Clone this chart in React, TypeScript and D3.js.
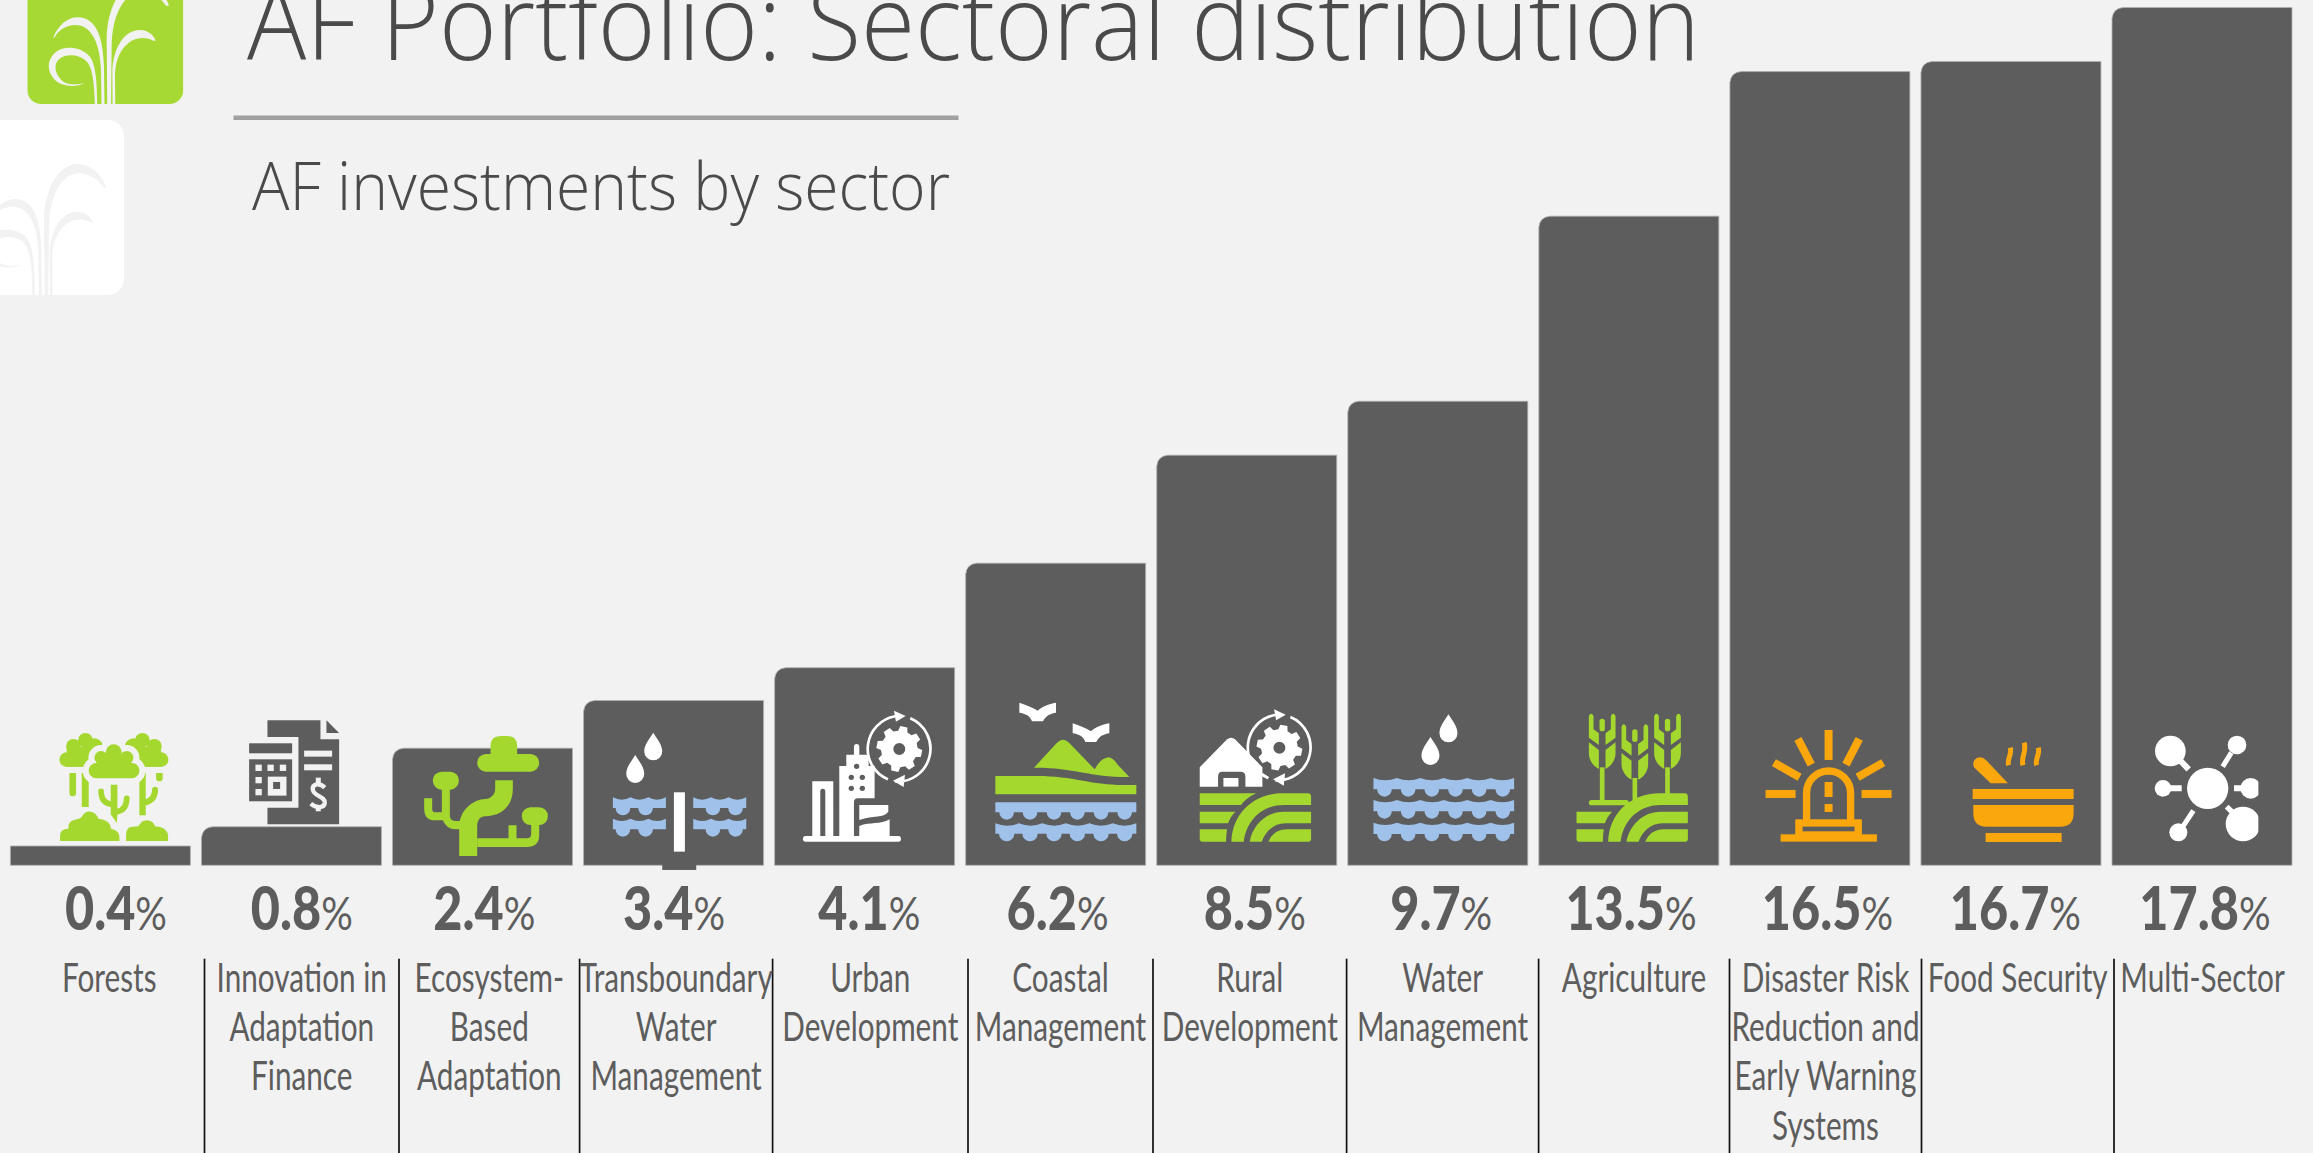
import React from 'react';
import * as d3 from 'd3';

const WIDTH = 2313;
const HEIGHT = 1153;

// Data
const sectors = [
  'Forests',
  'Innovation in|Adaptation|Finance',
  'Ecosystem-|Based|Adaptation',
  'Transboundary|Water|Management',
  'Urban|Development',
  'Coastal|Management',
  'Rural|Development',
  'Water|Management',
  'Agriculture',
  'Disaster Risk|Reduction and|Early Warning|Systems',
  'Food Security',
  'Multi-Sector',
];
const shares = [0.4, 0.8, 2.4, 3.4, 4.1, 6.2, 8.5, 9.7, 13.5, 16.5, 16.7, 17.8];
// the printed bars do not follow the labels exactly, these are their measured lengths
const barLengths = [0.4, 0.8, 2.43, 3.42, 4.1, 6.27, 8.51, 9.63, 13.47, 16.47, 16.68, 17.8];

// Layout, kept apart from the data
const dividerX = [204.5, 399, 579.6, 772.6, 968, 1153, 1346.6, 1538.6, 1729.5, 1921.5, 2114];
const valueNudge = [6.7, 0, -5, -2, -1, -3, 5, -1.4, -3, 2, -2.4, 2.5];
const iconOrigin: [number, number][] = [
  [-59, 495], [514, 495], [1087, 495], [-20, 526], [553, 526], [1126, 526],
  [-41, 526], [532, 526], [1105, 526], [-32, 526], [541, 526], [1114, 526],
];

const BG = '#f2f2f2';
const DARK = '#5d5d5d';
const GREEN = '#a5d82f';
const BLUE = '#a0c1e9';
const ORANGE = '#f9a70c';
const WHITE = '#ffffff';
const CONDENSED = 'Lato, "Open Sans", sans-serif';
const LIGHT = '"Open Sans", "Noto Sans", sans-serif';
const LABEL_SQUEEZE = 0.725;
const VALUE_SQUEEZE = 0.84;

const x = d3.scaleBand<string>().domain(sectors).range([10.4, 2292]).paddingInner(0.058).paddingOuter(0);
const y = d3.scaleLinear().domain([0, 17.8]).range([865.3, 7.5]);

const cellEdges = [14, ...dividerX, 2291];

function barPath(sector: string, value: number, corner: number) {
  const left = x(sector) as number;
  const right = left + x.bandwidth();
  const top = y(value);
  const p = d3.path();
  p.moveTo(left, y(0));
  p.lineTo(left, top + corner);
  if (corner) p.quadraticCurveTo(left + 1, top + 1, left + corner, top);
  p.lineTo(right, top);
  p.lineTo(right, y(0));
  p.closePath();
  return p.toString();
}

// icon helpers, all in 3x pixels
function waveBand(x0: number, x1: number, yTop: number, yBottom: number, arcs: number, dip: number, centers: number[], r: number) {
  const p = d3.path();
  const arcW = (x1 - x0) / arcs;
  p.moveTo(x0, yTop);
  for (let i = 0; i < arcs; i++) {
    p.quadraticCurveTo(x0 + arcW * (i + 0.5), yTop + dip * 2, x0 + arcW * (i + 1), yTop);
  }
  p.lineTo(x1, yBottom);
  [...centers].reverse().forEach((c) => {
    p.lineTo(c + r, yBottom);
    p.arc(c, yBottom, r, 0, Math.PI, false);
  });
  p.lineTo(x0, yBottom);
  p.closePath();
  return p.toString();
}

function dropPath(cx: number, top: number, bottom: number, r: number) {
  const h = bottom - top;
  return `M${cx},${top}C${cx + 0.4 * r},${top + 0.22 * h} ${cx + r},${top + 0.42 * h} ${cx + r},${bottom - r}A${r},${r} 0 1 1 ${cx - r},${bottom - r}C${cx - r},${top + 0.42 * h} ${cx - 0.4 * r},${top + 0.22 * h} ${cx},${top}Z`;
}

function gearPath(cx: number, cy: number, rOut: number, rIn: number, hole: number, teeth: number) {
  const step = (Math.PI * 2) / teeth;
  const pts: string[] = [];
  for (let i = 0; i < teeth; i++) {
    const a = i * step + 0.2;
    [[-0.3, rIn], [-0.18, rOut], [0.18, rOut], [0.3, rIn]].forEach(([f, r]) => {
      pts.push(`${cx + r * Math.cos(a + f * step * 1.1)},${cy + r * Math.sin(a + f * step * 1.1)}`);
    });
  }
  return `M${pts.join('L')}ZM${cx + hole},${cy}A${hole},${hole} 0 1 0 ${cx - hole},${cy}A${hole},${hole} 0 1 0 ${cx + hole},${cy}Z`;
}

const GearCycle = ({ dx = 0, dy = 0 }: { dx?: number; dy?: number }) => (
  <g transform={`translate(${dx},${dy})`} fill={WHITE}>
    <path d={gearPath(927, 177, 69, 55, 18, 8)} fillRule="evenodd" />
    <path d="M893,268A99,99 0 0 1 915,79" fill="none" stroke={WHITE} strokeWidth={8} />
    <path d="M960,85A99,99 0 0 1 915,275" fill="none" stroke={WHITE} strokeWidth={8} />
    <path d="M946,78L911,62L917,95Z" />
    <path d="M908,272L944,254L940,291Z" />
  </g>
);

const Arches = () => (
  <g fill={GREEN}>
    <path d="M183,455C185,380 240,310 340,310H412Q422,310 422,320V345H340C280,345 230,385 220,455Z" />
    <path d="M238,455C245,410 285,365 340,365H422V400H345C310,400 285,425 274,455Z" />
    <path d="M294,455C305,430 325,418 350,418H422V448Q422,455 415,455Z" />
    <path d="M88,365H195C185,375 178,385 173,400H88Z" />
    <path d="M88,418H170C168,430 167,445 167,455H95Q88,455 88,448Z" />
  </g>
);

const WheatHalf = () => (
  <g>
    <path d="M-40,78Q-33,64 -26,78V118L-10,130V165L-40,143Z" />
    <path d="M-40,157L-10,180V237C-28,228 -40,210 -40,190Z" />
  </g>
);

const Wheat = ({ c, dy, stem }: { c: number; dy: number; stem: number }) => (
  <g transform={`translate(${c},${dy})`} fill={GREEN}>
    <WheatHalf />
    <g transform="scale(-1,1)"><WheatHalf /></g>
    <rect x={-8} y={86} width={16} height={38} rx={8} />
    <rect x={-7} y={232} width={14} height={stem} />
  </g>
);

const BackCrown = () => (
  <g>
    <circle cx={166} cy={120} r={22} />
    <circle cx={130} cy={138} r={22} />
    <circle cx={110} cy={178} r={22} />
    <circle cx={192} cy={142} r={28} />
    <rect x={110} y={140} width={90} height={60} />
  </g>
);

const FrontCrown = (props: React.SVGProps<SVGGElement>) => (
  <g {...props}>
    <rect x={176} y={188} width={152} height={46} rx={23} />
    <circle cx={213} cy={172} r={20} />
    <circle cx={251} cy={156} r={24} />
    <circle cx={290} cy={172} r={20} />
    <rect x={200} y={165} width={100} height={40} />
  </g>
);

const ForestsIcon = () => (
  <g fill={GREEN}>
    <BackCrown />
    <g transform="translate(503,0) scale(-1,1)"><BackCrown /></g>
    <path d="M118,218H138V278Q138,288 128,288Q118,288 118,278Z" />
    <rect x={155} y={218} width={21} height={102} />
    <rect x={328} y={218} width={19} height={127} />
    <path d="M378,218H398V233Q398,243 388,243Q378,243 378,233Z" />
    <path d="M347,306C368,300 375,285 375,268" fill="none" stroke={GREEN} strokeWidth={18} strokeLinecap="round" />
    {/* the pale halo cuts the back crowns and trunks */}
    <FrontCrown fill={BG} stroke={BG} strokeWidth={36} strokeLinejoin="round" />
    <FrontCrown />
    <path d="M242,253H262V345L260,368L242,342Z" />
    <path d="M213,273C213,295 222,308 242,312" fill="none" stroke={GREEN} strokeWidth={17} strokeLinecap="round" />
    <path d="M290,294C290,316 280,330 262,334" fill="none" stroke={GREEN} strokeWidth={17} strokeLinecap="round" />
    <path d="M90,422V405Q90,385 115,385Q112,362 135,358Q150,355 155,350Q165,332 180,334Q198,335 205,355Q240,358 243,385Q268,390 268,410V422Z" />
    <path d="M288,422V405Q288,385 300,380Q320,378 325,378Q335,358 352,360Q370,362 375,378Q410,380 414,405V422Z" />
  </g>
);

const FinanceIcon = () => (
  <g fill={DARK}>
    <path d="M712,60H871V117H927V372H712V322H805V110H712Z" />
    <path d="M889,60L927,98H889Z" />
    <rect x={822} y={151} width={84} height={18} fill={BG} />
    <rect x={822} y={192} width={84} height={18} fill={BG} />
    <path d="M884,262C868,246 846,250 848,268C850,288 886,288 884,308C882,324 858,324 842,310" fill="none" stroke={BG} strokeWidth={13} />
    <rect x={857} y={232} width={15} height={16} fill={BG} />
    <rect x={857} y={318} width={15} height={15} fill={BG} />
    <rect x={657} y={129} width={129} height={30} />
    <rect x={657} y={177} width={129} height={126} />
    <g fill={BG}>
      <rect x={676} y={193} width={19} height={19} />
      <rect x={712} y={193} width={19} height={19} />
      <rect x={749} y={193} width={19} height={19} />
      <rect x={676} y={230} width={19} height={19} />
      <rect x={676} y={266} width={19} height={19} />
      <rect x={713} y={229} width={56} height={57} />
    </g>
    <rect x={729} y={245} width={21} height={21} />
  </g>
);

const EcosystemIcon = () => (
  <g fill={GREEN}>
    <rect x={1341} y={161} width={186} height={53} rx={26} />
    <path d="M1381,165V137Q1381,107 1411,107H1431Q1461,107 1461,137V165Z" />
    <path d="M1395,240H1448V265C1448,320 1410,348 1365,348C1350,348 1341,360 1341,378V467H1287V380C1287,330 1330,296 1365,296C1385,294 1395,280 1395,265Z" />
    <path d="M1341,414H1435V375H1459V414H1490Q1503,414 1503,400V372H1527V405Q1527,440 1490,440H1341Z" />
    <rect x={1475} y={321} width={78} height={53} rx={26} />
    <rect x={1208} y={214} width={78} height={54} rx={26} />
    <path d="M1235,262H1259V345Q1259,362 1275,362H1290V387H1275Q1250,387 1238,360H1215Q1182,360 1182,325V294H1206V325Q1206,336 1215,336H1235Z" />
  </g>
);

const TransboundaryIcon = () => (
  <g>
    <rect x={216} y={520} width={102} height={20} fill={DARK} />
    <g fill={WHITE}>
      <path d={dropPath(189, 128, 211, 27)} />
      <path d={dropPath(135, 195, 279, 27)} />
      <rect x={251} y={307} width={33} height={178} />
    </g>
    <g fill={BLUE}>
      <path d={waveBand(68, 227, 322, 354, 3, 7, [98, 166], 22)} />
      <path d={waveBand(68, 227, 386, 418, 3, 7, [98, 166], 22)} />
      <path d={waveBand(309, 468, 322, 354, 3, 7, [368, 436], 22)} />
      <path d={waveBand(309, 468, 386, 418, 3, 7, [368, 436], 22)} />
    </g>
  </g>
);

const UrbanIcon = () => (
  <g fill={WHITE}>
    <rect x={638} y={438} width={294} height={17} rx={8} />
    <path d="M666,438V274H729V438H705V304Q705,296 697,296Q690,296 690,304V438Z" />
    <path d="M747,438V228H768V194H791V170Q791,162 799,162Q807,162 807,170V194H835V228H853V325H803Q791,325 791,337V438Z" />
    <g fill={DARK}>
      <circle cx={799} cy={229} r={8} />
      <circle cx={783} cy={262} r={8} />
      <circle cx={816} cy={262} r={8} />
      <circle cx={783} cy={295} r={8} />
      <circle cx={816} cy={295} r={8} />
    </g>
    <path d="M807,345H894V365C880,385 850,375 807,390Z" />
    <path d="M807,408C840,395 870,405 898,388V438H807Z" />
    <GearCycle />
  </g>
);

const CoastalIcon = () => (
  <g>
    <g fill={WHITE}>
      <path d="M1287,38C1310,45 1330,55 1342,62C1355,50 1375,42 1397,38V68C1380,70 1365,78 1358,94H1325C1320,78 1305,70 1287,68Z" />
      <path d="M1287,38C1310,45 1330,55 1342,62C1355,50 1375,42 1397,38V68C1380,70 1365,78 1358,94H1325C1320,78 1305,70 1287,68Z" transform="translate(160,62)" />
    </g>
    <g fill={GREEN}>
      <path d="M1331,233L1400,158Q1418,140 1436,158L1513,238Q1530,205 1555,202Q1570,205 1580,222L1617,261C1500,262 1450,232 1331,233Z" />
      <path d="M1215,258H1340C1450,258 1500,285 1600,285H1638V313H1215Z" />
    </g>
    <g fill={BLUE}>
      <path d={waveBand(1215, 1638, 337, 367, 1, 0, [1249, 1319, 1391, 1461, 1532, 1603], 22)} />
      <path d={waveBand(1215, 1638, 400, 431, 6, 7, [1249, 1319, 1391, 1461, 1532, 1603], 23)} />
    </g>
  </g>
);

const RuralIcon = () => (
  <g>
    <Arches />
    <path d="M88,310H258C235,320 222,332 212,345H88Z" fill={GREEN} />
    <g fill={WHITE}>
      <path d="M88,290V232L170,148Q182,138 194,148L276,232V290H225V260Q225,245 210,245H155Q143,245 143,260V290Z" />
      <rect x={159} y={264} width={45} height={26} />
      <path d="M278,250L296,262L292,268L274,256Z" />
    </g>
    <GearCycle dx={-600} dy={-4} />
  </g>
);

const WaterIcon = () => {
  const centers = [642, 713, 784, 855, 926, 997];
  return (
    <g>
      <g fill={WHITE}>
        <path d={dropPath(834, 73, 157, 27)} />
        <path d={dropPath(780, 141, 225, 27)} />
      </g>
      <g fill={BLUE}>
        <path d={waveBand(609, 1031, 264, 298, 6, 7, centers, 22)} />
        <path d={waveBand(609, 1031, 330, 364, 6, 7, centers, 22)} />
        <path d={waveBand(609, 1031, 398, 432, 6, 7, centers, 22)} />
      </g>
    </g>
  );
};

const AgricultureIcon = () => (
  <g>
    <g transform="translate(1130,0)"><Arches /></g>
    <rect x={1255} y={330} width={120} height={16} rx={8} fill={GREEN} />
    <Wheat c={1295} dy={0} stem={100} />
    <Wheat c={1393} dy={32} stem={66} />
    <Wheat c={1491} dy={0} stem={80} />
  </g>
);

const DisasterIcon = () => (
  <g fill={ORANGE} stroke="none">
    <rect x={252} y={120} width={24} height={90} />
    <rect x={75} y={300} width={90} height={24} />
    <rect x={363} y={300} width={90} height={24} />
    <g stroke={ORANGE} strokeWidth={24} fill="none">
      <path d="M172,147L212,224" />
      <path d="M356,147L316,224" />
      <path d="M100,218L177,262" />
      <path d="M428,218L351,262" />
    </g>
    <path d="M198,390V309A66,66 0 0 1 330,309V390" fill="none" stroke={ORANGE} strokeWidth={22} />
    <rect x={252} y={276} width={24} height={45} />
    <rect x={252} y={342} width={24} height={24} />
    <rect x={175} y={399} width={178} height={36} fill="none" stroke={ORANGE} strokeWidth={22} />
    <rect x={120} y={433} width={289} height={22} />
  </g>
);

const FoodIcon = () => (
  <g fill={ORANGE}>
    <rect x={696} y={297} width={303} height={30} />
    <path d="M698,345H999V370Q999,410 960,410H737Q698,410 698,370Z" />
    <rect x={735} y={429} width={228} height={27} />
    <path d="M700,232Q693,212 710,203Q725,198 736,210L802,280H750Z" />
    <g fill="none" stroke={ORANGE} strokeWidth={15}>
      <path d="M809,173C815,195 798,205 804,226" />
      <path d="M851,158C858,190 840,200 847,226" />
      <path d="M893,173C899,195 882,205 888,226" />
    </g>
  </g>
);

const MultiIcon = () => (
  <g fill={WHITE} clipPath="url(#multiClip)">
    <circle cx={1401} cy={295} r={62} />
    <circle cx={1289} cy={183} r={46} />
    <circle cx={1489} cy={165} r={28} />
    <circle cx={1267} cy={295} r={25} />
    <circle cx={1530} cy={295} r={31} />
    <circle cx={1507} cy={402} r={52} />
    <circle cx={1313} cy={427} r={27} />
    <g stroke={WHITE} fill="none">
      <path d="M1315,208L1344,238" strokeWidth={18} />
      <path d="M1472,188L1446,230" strokeWidth={15} />
      <path d="M1285,295H1323" strokeWidth={18} />
      <path d="M1480,295H1505" strokeWidth={18} />
      <path d="M1458,350L1480,372" strokeWidth={16} />
      <path d="M1358,362L1325,412" strokeWidth={15} />
    </g>
  </g>
);

const icons = [
  ForestsIcon, FinanceIcon, EcosystemIcon, TransboundaryIcon, UrbanIcon, CoastalIcon,
  RuralIcon, WaterIcon, AgricultureIcon, DisasterIcon, FoodIcon, MultiIcon,
];

const Fountain = () => (
  <g fill={BG}>
    <path d="M160,112C175,75 205,50 235,52C285,55 308,100 312,200L314,345H305L303,210C300,130 275,75 225,75C200,75 175,90 163,113Z" />
    <path d="M254,248C230,262 190,262 165,240C140,215 140,180 165,158C190,135 240,140 265,165C285,185 292,225 292,345H285C285,235 275,195 255,180C235,163 195,160 175,180C160,195 165,225 190,245C205,255 235,255 254,248Z" />
    <path d="M322,345L320,120C320,20 365,-53 420,-53C460,-53 495,-20 507,17L498,17C480,-10 450,-25 425,-25C375,-25 338,40 335,130L333,345Z" />
    <path d="M338,345L337,220C337,150 370,90 420,90C445,90 460,105 467,122L460,122C440,110 415,112 395,122C365,140 347,175 345,220L346,345Z" />
  </g>
);

export default function App() {
  return (
    <svg
      width={WIDTH}
      height={HEIGHT}
      viewBox={`0 0 ${WIDTH} ${HEIGHT}`}
      style={{ position: 'fixed', left: 0, top: 0 }}
    >
      <defs>
        <clipPath id="greenLogo"><rect x={82} y={-60} width={468} height={372} rx={42} /></clipPath>
        <clipPath id="whiteLogo"><rect x={-60} y={360} width={432} height={525} rx={48} /></clipPath>
        <clipPath id="multiClip"><rect x={1100} y={0} width={453} height={526} /></clipPath>
      </defs>
      <rect width={WIDTH} height={HEIGHT} fill={BG} />

      {/* logos */}
      <g transform="scale(0.33333)">
        <g clipPath="url(#greenLogo)">
          <rect x={82} y={-60} width={468} height={372} fill="#a7d934" />
          <Fountain />
        </g>
        <g clipPath="url(#whiteLogo)">
          <rect x={-60} y={360} width={432} height={525} fill={WHITE} />
          <g transform="translate(-188,545)"><Fountain /></g>
        </g>
      </g>

      {/* heading */}
      <text x={247} y={60} fontFamily={LIGHT} fontWeight={300} fontSize={105} fill="#4a4a4a" textLength={1453} lengthAdjust="spacingAndGlyphs">
        AF Portfolio: Sectoral distribution
      </text>
      <rect x={233.5} y={115.5} width={725} height={4.5} fill="#a0a0a0" />
      <text x={252} y={210} fontFamily={LIGHT} fontWeight={300} fontSize={66} fill="#4a4a4a" textLength={698} lengthAdjust="spacingAndGlyphs">
        AF investments by sector
      </text>

      {/* bars */}
      {sectors.map((s, i) => (
        <path
          key={s}
          d={barPath(s, barLengths[i], i === 0 ? 0 : 11)}
          fill={DARK}
          stroke="#b0b0b0"
          strokeWidth={0.8}
        />
      ))}

      {/* icons sit on each bar, drawn at 3x */}
      {sectors.map((s, i) => {
        const Icon = icons[i];
        const [ox, oy] = iconOrigin[i];
        return (
          <g key={s} transform={`translate(${x(s)},${y(0)}) scale(0.33333) translate(${-ox},${-oy})`}>
            <Icon />
          </g>
        );
      })}

      {/* dividers */}
      {dividerX.map((d) => (
        <line key={d} x1={d} x2={d} y1={958.7} y2={HEIGHT} stroke="#111111" strokeWidth={1.7} />
      ))}

      {/* values and names */}
      {sectors.map((s, i) => {
        const cx = (cellEdges[i] + cellEdges[i + 1]) / 2;
        return (
          <g key={s} fill={DARK} fontFamily={CONDENSED} textAnchor="middle">
            <text transform={`translate(${cx + valueNudge[i]},930) scale(${VALUE_SQUEEZE},1)`} fontSize={60} fontWeight={900}>
              {d3.format('.1f')(shares[i])}
              <tspan fontSize={47} fontWeight={400}>%</tspan>
            </text>
            {s.split('|').map((line, j) => (
              <text key={line} transform={`translate(${cx},${992 + j * 49.2}) scale(${LABEL_SQUEEZE},1)`} fontSize={41}>{line}</text>
            ))}
          </g>
        );
      })}
    </svg>
  );
}
